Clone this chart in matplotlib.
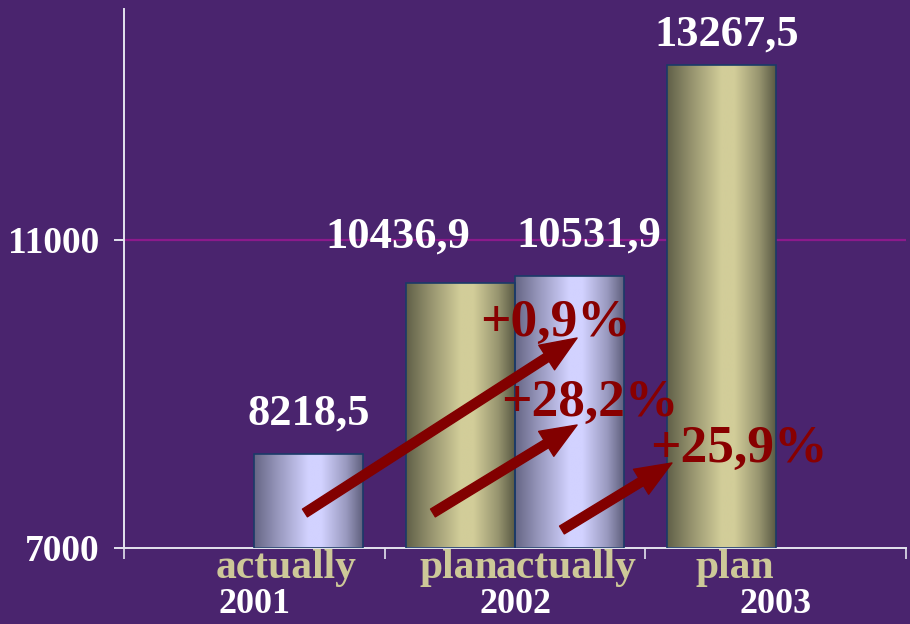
import numpy as np
import matplotlib
matplotlib.use("Agg")
import matplotlib.pyplot as plt

# budget figures by year, plan vs actual
years = ["2001", "2002", "2003"]
plan = [np.nan, 10436.9, 13267.5]
actual = [8218.5, 10531.9, np.nan]

growth_labels = ["+0,9%", "+28,2%", "+25,9%"]

BG = "#4a246e"
FONT = ["Liberation Serif", "DejaVu Serif"]
YMIN, YMAX = 7000, 14000

plt.rcParams["font.family"] = FONT
plt.rcParams["font.weight"] = "bold"


def gradient_bar(ax, x, h, width, dark, light, edge="#1b3a68"):
    bar = ax.bar(x, h - YMIN, bottom=YMIN, width=width, color="none",
                 edgecolor=edge, lw=1.2, zorder=3)[0]
    t = np.linspace(0, 1, 256)
    f = np.interp(t, [0, 0.2, 0.5, 0.62, 0.85, 1], [0.05, 0.45, 1, 1, 0.5, 0.0])
    dark = np.array(matplotlib.colors.to_rgb(dark))
    light = np.array(matplotlib.colors.to_rgb(light))
    img = dark[None, :] + (light - dark)[None, :] * f[:, None]
    im = ax.imshow(img[None, :, :], extent=[x - width / 2, x + width / 2, YMIN, h],
                   aspect="auto", zorder=2, interpolation="bilinear")
    im.set_clip_path(bar)
    return bar


fig = plt.figure(figsize=(9.1, 6.24), dpi=100, facecolor=BG)
ax = fig.add_axes([0.1363, 0.1218, 0.8593, 0.8638], facecolor=BG)

w = 0.418
xs = np.arange(len(years))
for i in xs:
    if not np.isnan(plan[i]):
        gradient_bar(ax, i - w / 2, plan[i], w, "#5a5a44", "#d2cd99")
    if not np.isnan(actual[i]):
        gradient_bar(ax, i + w / 2, actual[i], w, "#60607e", "#d2d2ff")

ax.set_xlim(-0.5, 2.5)
ax.set_ylim(YMIN, YMAX)

# gridline at 11000
ax.axhline(11000, color="#8c1a8c", lw=1.6, zorder=1)

# value labels above bars
val_offsets = {(0, "a"): (0, 21), (1, "p"): (-45, 26), (1, "a"): (14, 21), (2, "p"): (4, 14)}
for (i, kind), off in val_offsets.items():
    v = plan[i] if kind == "p" else actual[i]
    xc = i - w / 2 if kind == "p" else i + w / 2
    ax.annotate(f"{v:.1f}".replace(".", ","), (xc, v), xytext=off,
                textcoords="offset points", ha="center", va="baseline",
                color="white", fontsize=32, fontweight="bold", zorder=6)

# growth arrows
arrows = [((0.194, 7455), (1.238, 9727)),
          ((0.685, 7455), (1.238, 8597)),
          ((1.180, 7234), (1.602, 8104))]
for (x0, y0), (x1, y1) in arrows:
    ax.annotate("", xy=(x1, y1), xytext=(x0, y0),
                arrowprops=dict(arrowstyle="simple,head_length=1.3,head_width=1.05,tail_width=0.33",
                                mutation_scale=20, color="#820000", shrinkA=0, shrinkB=0),
                zorder=5)

pct_pos = [(0.866, 9753), (0.946, 8714), (1.518, 8117)]
for (px, py), lab in zip(pct_pos, growth_labels):
    ax.text(px, py, lab, ha="left", va="baseline", color="#880000",
            fontsize=38.5, fontweight="bold", zorder=7)

# axes styling
for s in ["top", "right"]:
    ax.spines[s].set_visible(False)
for s in ["left", "bottom"]:
    ax.spines[s].set_color("#e4e4ee")
    ax.spines[s].set_linewidth(1.4)

ax.set_yticks([7000, 11000])
ax.set_yticklabels(["7000", "11000"])
ax.tick_params(axis="y", length=7, width=1.4, color="#e4e4ee", pad=11,
               labelsize=27, labelcolor="white")

ax.set_xticks(xs)
ax.set_xticklabels(years)
ax.tick_params(axis="x", which="major", length=0, pad=29, labelsize=26, labelcolor="white")
ax.set_xticks([-0.5, 0.5, 1.5, 2.5], minor=True)
ax.tick_params(axis="x", which="minor", length=8, width=1.2, color="#e4e4ee", direction="out")

# category labels under the bars
cat_labels = [(0.121, "actually"), (0.784, "plan"), (1.197, "actually"), (1.845, "plan")]
for cx, lab in cat_labels:
    ax.text(cx, -0.0557, lab, transform=ax.get_xaxis_transform(), ha="center",
            va="baseline", color="#cdc898", fontsize=30, fontweight="bold", zorder=8)

fig.savefig("out.png", dpi=100, facecolor=BG)
